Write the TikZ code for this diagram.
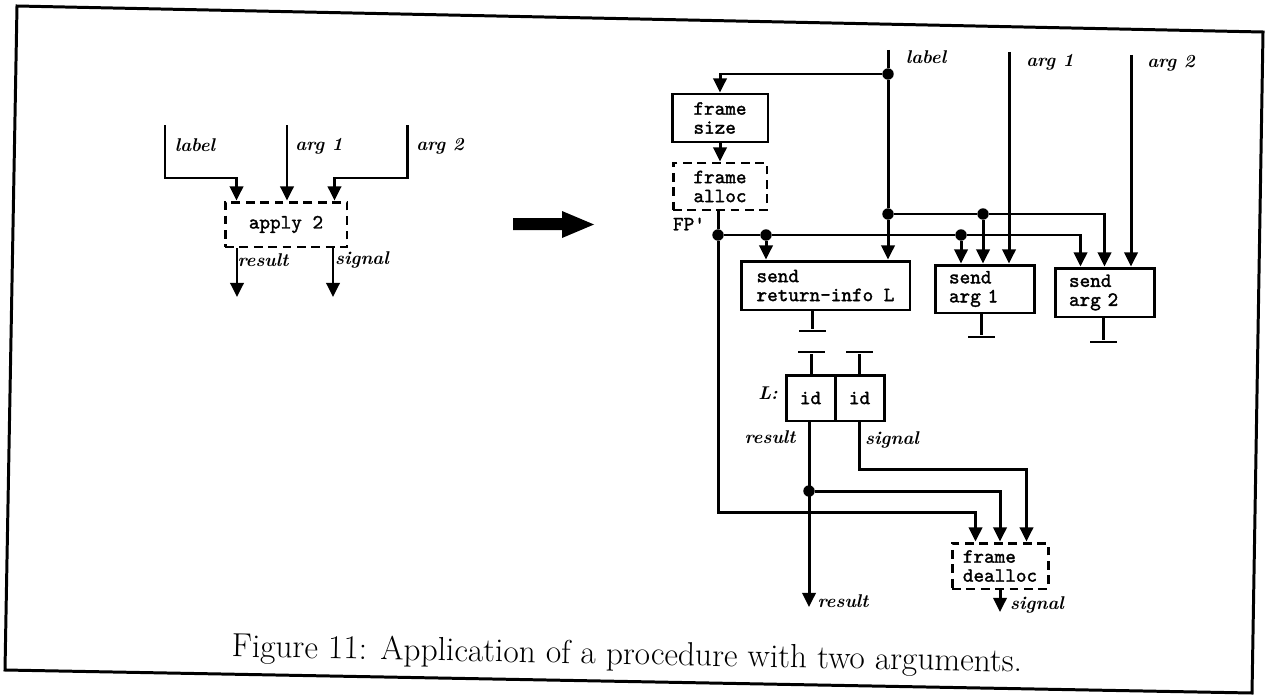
\documentclass[tikz,border=0pt]{standalone}
\usepackage{fontspec}
\usepackage{tikz}
\usetikzlibrary{arrows.meta,positioning,calc}

\newfontfamily\boxtt{lmmono10-regular}[Extension=.otf,FakeBold=1.6]
\newcommand{\boxfont}{\fontsize{11.5}{10.8}\selectfont\boxtt}
\tikzset{
  wire/.style={line width=1.7pt},
  arr/.style={wire,-{Triangle[length=8pt,width=7.5pt]}},
  blk/.style={draw,line width=1.7pt,font=\boxfont,align=left,inner sep=0pt},
  dblk/.style={blk,dash pattern=on 5pt off 3.2pt},
  tag/.style={font=\fontsize{10.5}{12}\selectfont\bfseries\itshape,inner sep=0pt},
  dot/.style={circle,fill,inner sep=0pt,minimum size=6.5pt},
  tbar/.style={fill,inner sep=0pt,minimum width=0.54cm,minimum height=1.7pt}
}

\begin{document}
\begin{tikzpicture}[x=0.02cm,y=-0.02cm]
  \useasboundingbox (0,0) rectangle (1266,696);
  % frame (the scan is a little skewed)
  \draw[wire] (17,6) -- (1263,32) -- (1252,693) -- (5,670) -- cycle;

  % ---- left: apply 2
  \node[dblk,minimum width=2.44cm,minimum height=0.9cm] (apply) at (286,224.5) {apply 2};
  \coordinate (inLab) at (165,125);
  \coordinate (inA1) at (287,125);
  \coordinate (inA2) at (407,125);
  \coordinate (outRes) at (237,297);
  \coordinate (outSig) at (333,297);
  \draw[arr] (inLab) -- ++(0,53) -| ([xshift=0.26cm]apply.north west);
  \draw[arr] (inA1) -- (inA1 |- apply.north);
  \draw[arr] (inA2) -- ++(0,53) -| ([xshift=-0.28cm]apply.north east);
  \draw[arr] (outRes |- apply.south) -- (outRes);
  \draw[arr] (outSig |- apply.south) -- (outSig);
  \node[tag] (tLab) at (195,145) {label};
  \node[tag] (tA1) at (319,146) {arg 1};
  \node[tag] (tA2) at (440,146) {arg 2};
  \node[tag] (tRes) at (263,260) {result};
  \node[tag] (tSig) at (362,260) {signal};

  % fat arrow
  \fill (513,218) -- (562,218) -- (562,211) -- (594,224.5) -- (562,238) -- (562,230) -- (513,230) -- cycle;

  % ---- right: blocks
  \node[blk,minimum width=1.92cm,minimum height=0.96cm] (fsize) at (720,118) {frame\\size};
  \node[dblk,minimum width=1.88cm,minimum height=0.94cm] (falloc) at (720,186.5) {frame\\alloc};
  \node[blk,minimum width=3.38cm,minimum height=0.98cm] (sret) at (825.5,285.5) {send\\return-info L};
  \node[blk,minimum width=1.98cm,minimum height=0.96cm,text width=1.42cm] (sarg1) at (984.5,289) {send\\arg 1};
  \node[blk,minimum width=1.98cm,minimum height=0.98cm,text width=1.42cm] (sarg2) at (1104.5,292.5) {send\\arg 2};
  \node[blk,minimum width=0.98cm,minimum height=0.92cm] (id1) at (810.5,398) {id};
  \node[blk,minimum width=0.98cm,minimum height=0.92cm] (id2) at (859.5,398) {id};
  \node[dblk,minimum width=1.92cm,minimum height=0.92cm] (fdealloc) at (1000,566) {frame\\dealloc};

  % junctions and free ends
  \node[dot] (jTop) at (888,74) {};
  \node[dot] (jMid) at (888,214) {};
  \node[dot] (jArg) at (983,214) {};
  \node[dot] (fpA) at (718,235) {};
  \node[dot] (fpB) at (766,235) {};
  \node[dot] (fpC) at (961,235) {};
  \node[dot] (jRes) at (809,491) {};
  \coordinate (inLab2) at (888,50);
  \coordinate (inArg1) at (1009,52);
  \coordinate (inArg2) at (1131,55);
  \coordinate (outRes2) at (809,607);
  \coordinate (outSig2) at (1000,612);

  % label
  \draw[wire] (inLab2) -- (jTop);
  \draw[arr] (jTop) -| (fsize.north);
  \draw[arr] (fsize.south) -- (falloc.north);
  \draw[arr] (jTop) -- (jMid) -- (jMid |- sret.north);
  \draw[wire] (jMid) -- (jArg);
  \draw[arr] (jArg) -- (jArg |- sarg1.north);
  \draw[arr] (jArg) -| (sarg2.north);
  % arguments
  \draw[arr] (inArg1) -- (inArg1 |- sarg1.north);
  \draw[arr] (inArg2) -- (inArg2 |- sarg2.north);
  % frame pointer
  \draw[wire] (falloc.south -| fpA) -- (fpA);
  \draw[wire] (fpA) -- (fpB) -- (fpC);
  \draw[arr] (fpB) -- (fpB |- sret.north);
  \draw[arr] (fpC) -- (fpC |- sarg1.north);
  \draw[arr] (fpC) -| ([xshift=0.54cm]sarg2.north west);
  \draw[arr] (fpA) -- ++(0,277) -| ([xshift=0.5cm]fdealloc.north west);

  % sinks
  \node[tbar] (gRet) at (812,331) {};
  \node[tbar] (gA1) at (981,337) {};
  \node[tbar] (gA2) at (1103,342) {};
  \draw[wire] (sret.south -| gRet) -- (gRet);
  \draw[wire] (sarg1.south -| gA1) -- (gA1);
  \draw[wire] (sarg2.south -| gA2) -- (gA2);
  % sources into L
  \node[tbar] (tIn1) at (811,352) {};
  \node[tbar] (tIn2) at (859,352) {};
  \draw[wire] (tIn1) -- (tIn1 |- id1.north);
  \draw[wire] (tIn2) -- (tIn2 |- id2.north);

  % results
  \draw[arr] (id1.south -| outRes2) -- (outRes2);
  \draw[arr] (jRes) -| (fdealloc.north);
  \draw[arr] (id2.south) -- ++(0,47) -| ([xshift=-0.46cm]fdealloc.north east);
  \draw[arr] (fdealloc.south) -- (outSig2);

  % labels
  \node[tag] (tLab2) at (926,57) {label};
  \node[tag] (tArg1) at (1050,62) {arg 1};
  \node[tag] (tArg2) at (1171,63) {arg 2};
  \node[font=\boxfont,inner sep=0pt] (tFP) at (689,224) {FP'};
  \node[tag] (tL) at (768,393) {L:};
  \node[tag] (tRes2) at (770,437) {result};
  \node[tag] (tSig2) at (892,440) {signal};
  \node[tag] (tRes3) at (843,601) {result};
  \node[tag] (tSig3) at (1037,605) {signal};

  % caption
  \node[font=\fontsize{19}{22}\selectfont,rotate=-1.1] (cap) at (627,656)
    {Figure 11: Application of a procedure with two arguments.};
\end{tikzpicture}
\end{document}
